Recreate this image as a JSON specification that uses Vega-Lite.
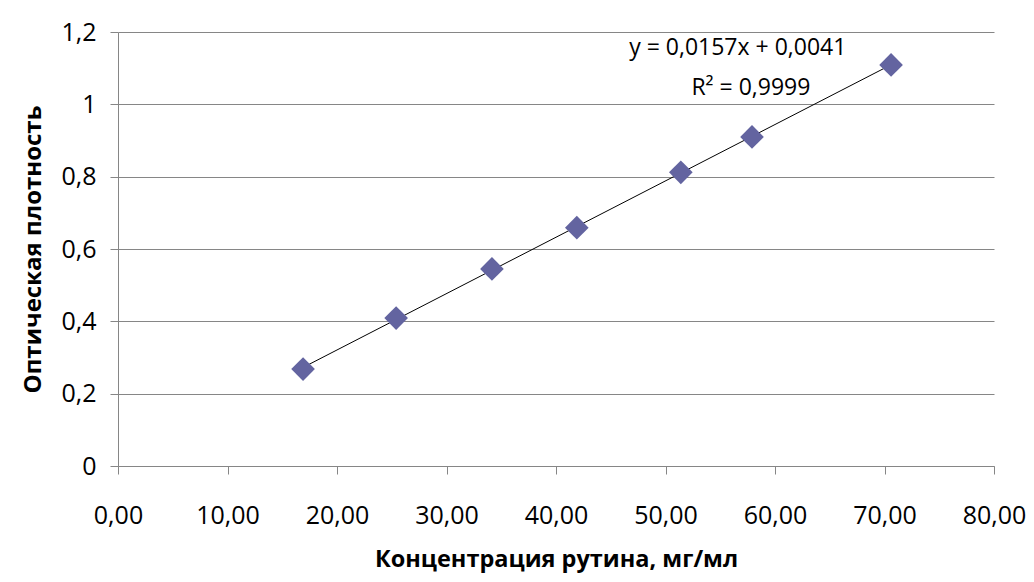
{
  "$schema": "https://vega.github.io/schema/vega-lite/v6.json",
  "autosize": "none",
  "width": 876,
  "height": 434,
  "padding": {"left": 118, "top": 32, "right": 40, "bottom": 116},
  "background": "white",
  "config": {
    "view": {"stroke": null},
    "font": "Open Sans"
  },
  "datasets": {
    "pts": [
      {"c": 16.9, "od": 0.268},
      {"c": 25.4, "od": 0.409},
      {"c": 34.15, "od": 0.545},
      {"c": 41.9, "od": 0.659},
      {"c": 51.4, "od": 0.812},
      {"c": 57.9, "od": 0.910},
      {"c": 70.6, "od": 1.109}
    ],
    "lbl": [
      {"c": 56.6, "od": 1.157, "t": "y = 0,0157x + 0,0041"},
      {"c": 57.8, "od": 1.044, "t": "R² = 0,9999"}
    ]
  },
  "layer": [
    {
      "data": {"name": "pts"},
      "transform": [{"regression": "od", "on": "c", "method": "linear"}],
      "mark": {"type": "line", "color": "black", "strokeWidth": 1},
      "encoding": {
        "x": {
          "field": "c", "type": "quantitative",
          "scale": {"domain": [0, 80], "nice": false, "zero": true},
          "axis": {
            "title": "Концентрация рутина, мг/мл",
            "titleFont": "Open Sans", "titleFontSize": 23.5, "titleFontWeight": "bold", "titleColor": "black",
            "titlePadding": 19,
            "values": [0, 10, 20, 30, 40, 50, 60, 70, 80],
            "labelExpr": "replace(format(datum.value, '.2f'), '.', ',')",
            "labelFont": "Open Sans", "labelFontSize": 25, "labelColor": "black",
            "labelPadding": 29,
            "labelFlush": false, "labelOverlap": false, "labelBound": false,
            "tickSize": 8, "tickColor": "#868686", "domainColor": "#868686",
            "grid": false
          }
        },
        "y": {
          "field": "od", "type": "quantitative",
          "scale": {"domain": [0, 1.2], "nice": false},
          "axis": {
            "title": "Оптическая плотность",
            "titleFont": "Open Sans", "titleFontSize": 24, "titleFontWeight": "bold", "titleColor": "black",
            "titlePadding": 15,
            "values": [0, 0.2, 0.4, 0.6, 0.8, 1, 1.2],
            "labelExpr": "replace(format(datum.value, '~g'), '.', ',')",
            "labelFont": "Open Sans", "labelFontSize": 25, "labelColor": "black",
            "labelPadding": 14,
            "labelFlush": false, "labelOverlap": false, "labelBound": false,
            "tickSize": 8, "tickColor": "#868686", "domainColor": "#868686",
            "grid": true, "gridColor": "#868686", "gridWidth": 1
          }
        }
      }
    },
    {
      "data": {"name": "pts"},
      "mark": {"type": "point", "shape": "diamond", "filled": true, "size": 560, "color": "#6364A0", "opacity": 1},
      "encoding": {
        "x": {"field": "c", "type": "quantitative"},
        "y": {"field": "od", "type": "quantitative"}
      }
    },
    {
      "data": {"name": "lbl"},
      "mark": {"type": "text", "font": "Open Sans", "fontSize": 23, "color": "black", "align": "center", "baseline": "middle"},
      "encoding": {
        "x": {"field": "c", "type": "quantitative"},
        "y": {"field": "od", "type": "quantitative"},
        "text": {"field": "t"}
      }
    }
  ]
}
